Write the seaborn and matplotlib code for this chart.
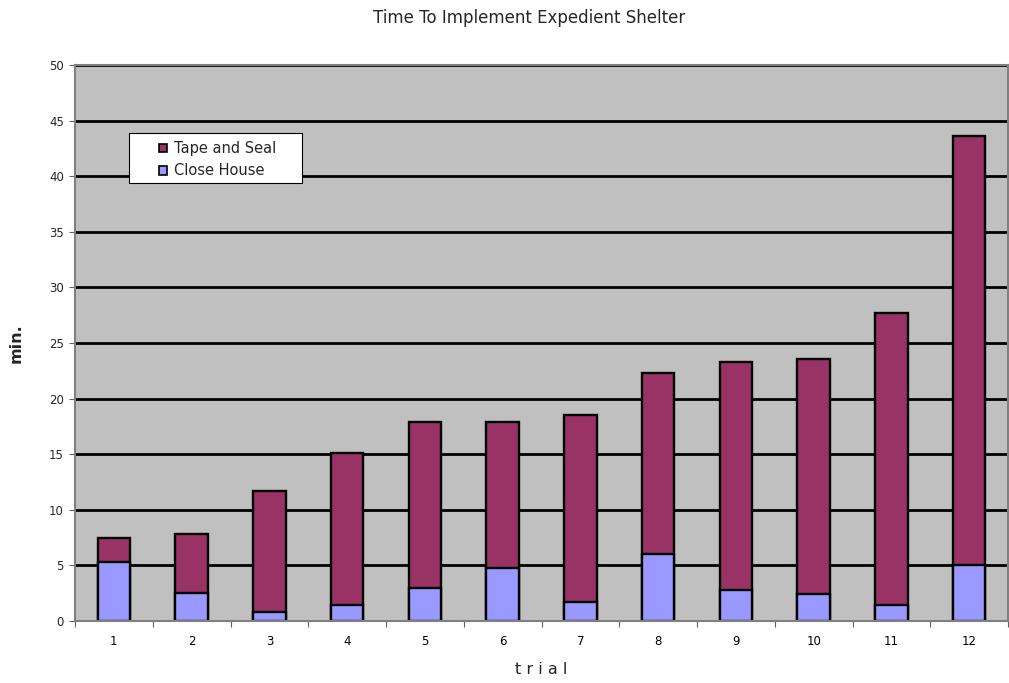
import numpy as np
import pandas as pd
import matplotlib
matplotlib.use('Agg')
import matplotlib.pyplot as plt
from matplotlib.patches import Patch, Rectangle
import seaborn as sns

trials = ['1', '2', '3', '4', '5', '6', '7', '8', '9', '10', '11', '12']
close_house = [5.3, 2.5, 0.8, 1.4, 3.0, 4.8, 1.75, 6.0, 2.8, 2.4, 1.4, 5.0]
tape_and_seal = [2.2, 5.35, 10.85, 13.7, 14.9, 13.1, 16.75, 16.3, 20.45, 21.15, 26.3, 38.65]

TAPE_COLOR = '#993366'
CLOSE_COLOR = '#9999FF'
BG = '#C0C0C0'

sns.set_theme(style='white')
plt.rcParams['font.family'] = ['DejaVu Sans']

df = pd.DataFrame({'trial': trials, 'close': close_house, 'tape': tape_and_seal})
df['total'] = df['close'] + df['tape']

fig = plt.figure(figsize=(10.09, 6.83), dpi=100)
ax = fig.add_axes([75 / 1009, 1 - 621 / 683, 933 / 1009, 556 / 683])
ax.set_facecolor(BG)

# stacked: full height in tape colour, close house drawn on top
sns.barplot(data=df, x='trial', y='total', color=TAPE_COLOR, saturation=1, width=0.42,
            edgecolor='black', linewidth=1.7, ax=ax)
sns.barplot(data=df, x='trial', y='close', color=CLOSE_COLOR, saturation=1, width=0.42,
            edgecolor='black', linewidth=1.7, ax=ax)

ax.set_ylim(0, 50)
ax.set_xlim(-0.5, 11.5)
ax.set_yticks(np.arange(0, 51, 5))
ax.yaxis.grid(True, color='black', linewidth=2.0)
ax.xaxis.grid(False)
ax.set_axisbelow(True)

for s in ax.spines.values():
    s.set_color('#808080')
    s.set_linewidth(1.5)

ax.set_xticks(np.arange(-0.5, 11.6, 1), minor=True)
ax.tick_params(axis='x', which='major', length=0, pad=10, labelsize=8.5, colors='black')
ax.tick_params(axis='x', which='minor', length=4, width=0.8, color='#606060', direction='out', bottom=True)
ax.tick_params(axis='y', length=4, width=0.8, color='#606060', direction='out', left=True,
               labelsize=8.5, pad=4)

ax.set_xlabel('t r i a l', fontsize=11.5, labelpad=10)
ax.set_ylabel('min.', fontsize=11.5, fontweight='bold', labelpad=18)

fig.text(0.524, 1 - 18 / 683, 'Time To Implement Expedient Shelter', ha='center', va='center',
         fontsize=12)

# legend box is wider than its content in the original
ax.add_patch(Rectangle((0.058, 0.788), 0.185, 0.09, transform=ax.transAxes,
                       facecolor='white', edgecolor='black', linewidth=0.8, zorder=4.5))
handles = [Patch(facecolor=TAPE_COLOR, edgecolor='black', linewidth=1.2, label='Tape and Seal'),
           Patch(facecolor=CLOSE_COLOR, edgecolor='black', linewidth=1.2, label='Close House')]
leg = ax.legend(handles=handles, loc='upper left', bbox_to_anchor=(0.09, 0.863),
                frameon=False, fontsize=10.5, handlelength=0.55, handleheight=0.55,
                handletextpad=0.45, borderpad=0, labelspacing=0.5, borderaxespad=0)
leg.set_zorder(6)

fig.savefig('out.png', dpi=100)
